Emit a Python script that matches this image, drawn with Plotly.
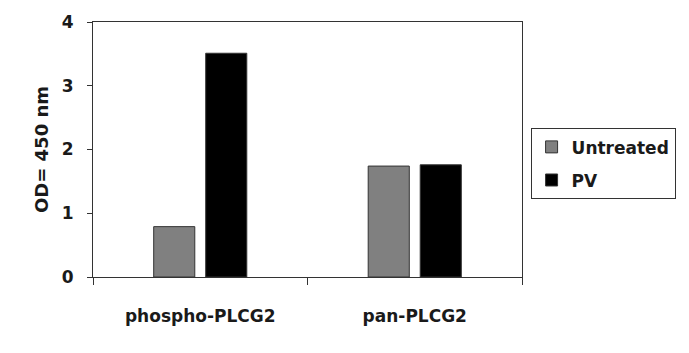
import plotly.graph_objects as go

categories = ["phospho-PLCG2", "pan-PLCG2"]
untreated = [0.79, 1.74]
pv = [3.51, 1.76]
y_ticks = [0, 1, 2, 3, 4]

font_family = "DejaVu Sans, sans-serif"

fig = go.Figure()
fig.add_trace(go.Bar(name="Untreated", x=categories, y=untreated, legendgroup="a",
                     marker=dict(color="#808080", line=dict(color="#333333", width=1))))
fig.add_trace(go.Bar(name="PV", x=categories, y=pv, legendgroup="b",
                     marker=dict(color="#000000", line=dict(color="#333333", width=1))))

fig.update_layout(
    width=689, height=353,
    margin=dict(l=93, r=167, t=17, b=76),
    paper_bgcolor="white", plot_bgcolor="white",
    barmode="group", bargap=0.515, bargroupgap=0.21,
    font=dict(family=font_family, color="#1a1a1a"),
    legend=dict(x=1.02, y=0.583, xanchor="left", yanchor="top",
                bordercolor="#333333", borderwidth=1,
                font=dict(size=17, family=font_family, weight="bold"),
                tracegroupgap=8, itemwidth=30),
    showlegend=True,
)
fig.update_xaxes(
    showline=True, linecolor="#333333", linewidth=1, mirror=True,
    ticks="outside", tickson="boundaries", ticklen=7, tickcolor="#333333",
    tickfont=dict(size=17, family=font_family, weight="bold"),
    ticklabelstandoff=24,
    showgrid=False,
)
fig.update_yaxes(
    range=[0, 4], tickvals=y_ticks,
    showline=True, linecolor="#333333", linewidth=1, mirror=True,
    ticks="outside", ticklen=5, tickcolor="#333333",
    tickfont=dict(size=17, family=font_family, weight="bold"),
    ticklabelstandoff=10,
    showgrid=False, zeroline=False,
    title=dict(text="OD= 450 nm", font=dict(size=18, family=font_family, weight="bold"), standoff=8),
)

fig.write_html("out.html")
